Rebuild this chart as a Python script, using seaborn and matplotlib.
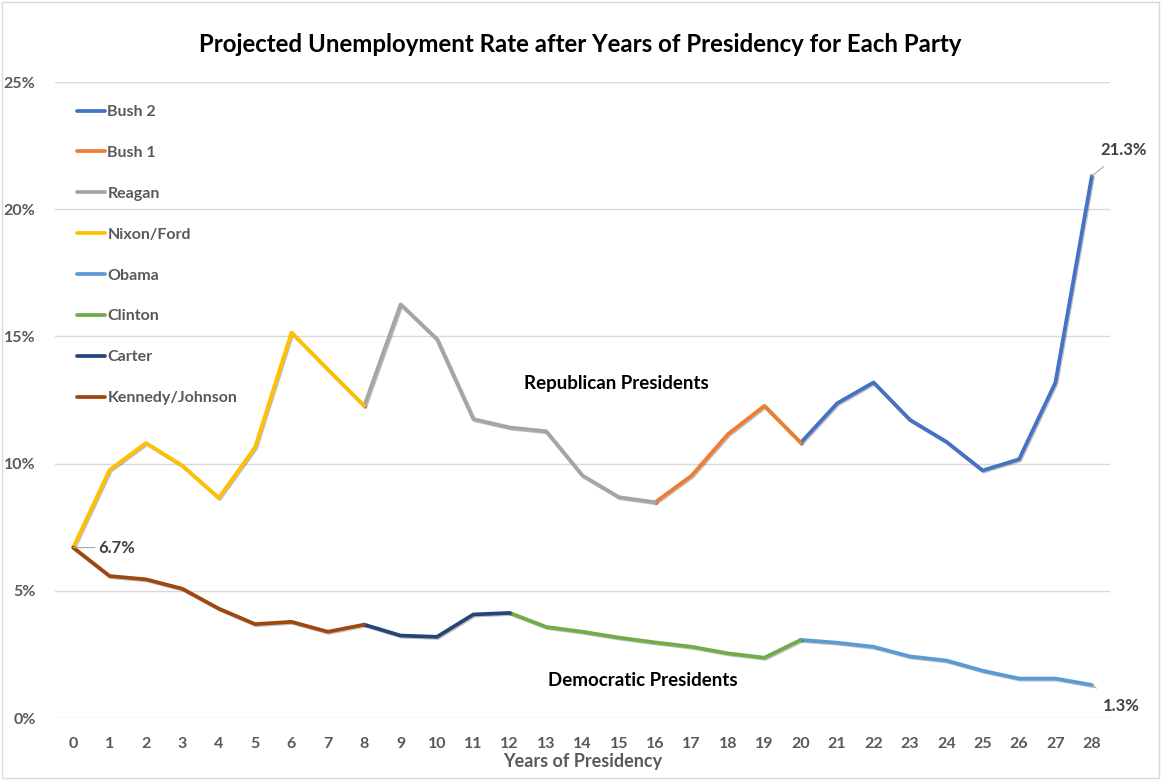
import matplotlib
matplotlib.use("Agg")
import matplotlib.pyplot as plt
import matplotlib.patheffects as pe
from matplotlib.patches import Rectangle
import seaborn as sns
import pandas as pd
import numpy as np

years = list(range(29))
rep_rate = [6.7, 9.75, 10.81, 9.92, 8.65, 10.64, 15.15, 13.7, 12.27, 16.26,
            14.89, 11.75, 11.42, 11.27, 9.53, 8.68, 8.48, 9.53, 11.16, 12.27,
            10.82, 12.37, 13.19, 11.72, 10.86, 9.73, 10.17, 13.19, 21.3]
dem_rate = [6.7, 5.58, 5.45, 5.08, 4.30, 3.69, 3.78, 3.39, 3.67, 3.24,
            3.19, 4.07, 4.13, 3.58, 3.39, 3.16, 2.97, 2.80, 2.54, 2.37,
            3.07, 2.96, 2.80, 2.42, 2.26, 1.86, 1.55, 1.55, 1.3]
# (president, first year, last year)
rep_terms = [("Nixon/Ford", 0, 8), ("Reagan", 8, 16), ("Bush 1", 16, 20), ("Bush 2", 20, 28)]
dem_terms = [("Kennedy/Johnson", 0, 8), ("Carter", 8, 12), ("Clinton", 12, 20), ("Obama", 20, 28)]
legend_order = ["Bush 2", "Bush 1", "Reagan", "Nixon/Ford", "Obama", "Clinton", "Carter", "Kennedy/Johnson"]
colors = {"Bush 2": "#4472C4", "Bush 1": "#ED7D31", "Reagan": "#A5A5A5", "Nixon/Ford": "#FFC000",
          "Obama": "#5B9BD5", "Clinton": "#70AD47", "Carter": "#264478", "Kennedy/Johnson": "#9E480E"}

rows = []
for terms, rates in ((rep_terms, rep_rate), (dem_terms, dem_rate)):
    for name, a, b in terms:
        for yr in range(a, b + 1):
            rows.append({"year": yr, "rate": rates[yr], "president": name})
df = pd.DataFrame(rows)

sns.set_style("white")
plt.rcParams["font.family"] = ["Lato", "DejaVu Sans"]
grey = "#595959"

fig = plt.figure(figsize=(11.61, 7.80), dpi=100)
ax = fig.add_axes([55 / 1161, 1 - 718 / 780, (1110 - 55) / 1161, (718 - 82) / 780])

sns.lineplot(data=df, x="year", y="rate", hue="president", hue_order=legend_order,
             palette=colors, estimator=None, sort=False, units="president",
             linewidth=2.7, ax=ax,
             path_effects=[pe.SimpleLineShadow(offset=(0.8, -0.8), alpha=0.25), pe.Normal()])

ax.set_xlim(-0.5, 28.5)
ax.set_ylim(0, 25)
ax.set_xticks(years)
ax.set_yticks([0, 5, 10, 15, 20, 25])
ax.set_yticklabels([f"{v}%" for v in [0, 5, 10, 15, 20, 25]])
ax.yaxis.grid(True, color="#D9D9D9", linewidth=1)
ax.set_axisbelow(True)
for s in ax.spines.values():
    s.set_visible(False)
ax.tick_params(axis="both", length=0, labelsize=11.5, labelcolor=grey)
ax.tick_params(axis="y", pad=14)
ax.tick_params(axis="x", pad=14)
for lbl in ax.get_xticklabels() + ax.get_yticklabels():
    lbl.set_fontweight("bold")
ax.set_xlabel("Years of Presidency", fontsize=13, fontweight="bold", color=grey, labelpad=1)
ax.set_ylabel("")

fig.text(0.5, 1 - 45 / 780, "Projected Unemployment Rate after Years of Presidency for Each Party",
         ha="center", va="center", fontsize=17.3, fontweight="bold", color="#000000")

ax.text(616 / 1161, 1 - 384 / 780, "Republican Presidents", transform=fig.transFigure,
        ha="center", va="center", fontsize=13.5, fontweight="bold", color="#000000")
ax.text(643 / 1161, 1 - 681 / 780, "Democratic Presidents", transform=fig.transFigure,
        ha="center", va="center", fontsize=13.5, fontweight="bold", color="#000000")

# data labels
ax.annotate(f"{rep_rate[0]}%", xy=(0, rep_rate[0]), xytext=(25, 0), textcoords="offset pixels",
            ha="left", va="center", fontsize=12, fontweight="bold", color="#404040",
            arrowprops=dict(arrowstyle="-", color="#A6A6A6", lw=0.8, shrinkA=0, shrinkB=0))
ax.annotate(f"{rep_rate[28]}%", xy=(28, rep_rate[28]), xytext=(32, 26), textcoords="offset pixels",
            ha="center", va="center", fontsize=12, fontweight="bold", color="#404040",
            arrowprops=dict(arrowstyle="-", color="#A6A6A6", lw=0.8, shrinkA=6, shrinkB=0))
ax.annotate(f"{dem_rate[28]}%", xy=(28, dem_rate[28]), xytext=(29, -21), textcoords="offset pixels",
            ha="center", va="center", fontsize=12, fontweight="bold", color="#404040",
            arrowprops=dict(arrowstyle="-", color="#A6A6A6", lw=0.8, shrinkA=8, shrinkB=0))

leg = ax.legend(loc="upper left", frameon=False,
                fontsize=11.5, labelspacing=1.67, handlelength=1.75, handletextpad=0.15,
                borderaxespad=0.0, borderpad=0.0)
for t in leg.get_texts():
    t.set_color(grey)
    t.set_fontweight("bold")
for h in leg.legend_handles:
    h.set_linewidth(2.7)
    h.set_path_effects([])
leg.set_bbox_to_anchor((22 / 1055, 1 - 23 / 636))

fig.patches.append(Rectangle((0.002, 0.002), 0.996, 0.996, transform=fig.transFigure,
                             fill=False, edgecolor="#D9D9D9", linewidth=1))

fig.savefig("out.png", dpi=100)
